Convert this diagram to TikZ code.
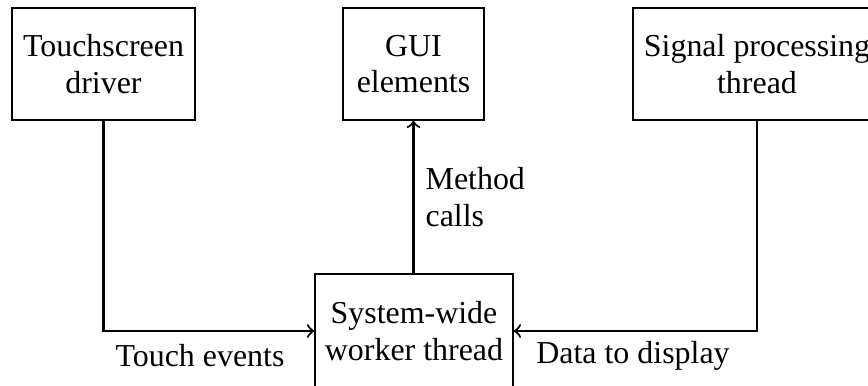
\documentclass[tikz,border=0pt]{standalone}
\usepackage{fontspec}
\setmainfont{Liberation Serif}
\def\px{0.3257pt}
\tikzset{
  block/.style={draw, line width=0.4pt, align=center, inner sep=0pt, minimum height=112*\px},
  lbl/.style={inner sep=0pt, align=left},
  flow/.style={->, line width=0.7pt}
}
\begin{document}
\begin{tikzpicture}[x=0.3257pt, y=-0.3257pt, every node/.append style={font=\fontsize{10.4pt}{12pt}\selectfont}]
  \useasboundingbox (0,0) rectangle (868,385);
  % blocks
  \node[block, minimum width=183*\px] (ts)  at (103.5,64) {Touchscreen\\driver};
  \node[block, minimum width=141*\px] (gui) at (413.5,64) {GUI\\elements};
  \node[block, minimum width=248*\px] (sig) at (757,64)   {Signal processing\\thread};
  \node[block, minimum width=198*\px, minimum height=114*\px] (sys) at (414,331) {System-wide\\worker thread};
  % connectors
  \draw[flow] (ts.south) |- (sys.west);
  \draw[flow] (sig.south) |- (sys.east);
  \draw[flow] (sys.north -| gui.south) -- (gui.south);
  % labels
  \node[lbl] (lte) at (200,356) {Touch events};
  \node[lbl] (ldd) at (633,356) {Data to display};
  \node[lbl, anchor=west] (lmc) at (425,197) {Method\\calls};
\end{tikzpicture}
\end{document}
